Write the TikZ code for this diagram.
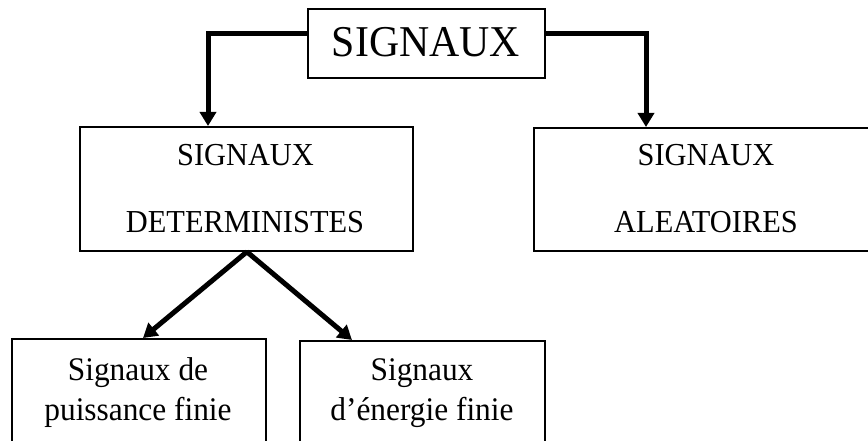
\documentclass[tikz,border=0pt]{standalone}
\usepackage{graphicx}
\usepackage{fontspec}
\setmainfont{Liberation Serif}
\usetikzlibrary{arrows.meta}
\newcommand{\condtxt}[1]{\scalebox{0.95}[1]{#1}}
\tikzset{
  box/.style={draw=black, line width=1.8pt, rectangle, inner sep=0pt, anchor=north west},
  lbl/.style={anchor=base, inner sep=0pt, font=\fontsize{32}{36}\selectfont},
  conn/.style={line width=5pt, -{Triangle[length=14pt,width=16pt]}, line join=miter},
}
\begin{document}
\begin{tikzpicture}[x=1pt,y=-1pt]
\useasboundingbox (0,0) rectangle (868,441);
\clip (0,0) rectangle (868,441);
\fill[white] (0,0) rectangle (868,441);
% boxes
\node[box, minimum width=237pt, minimum height=69pt] (top) at (307,8) {};
\node[box, minimum width=333pt, minimum height=124pt] (det) at (79,126) {};
\node[box, minimum width=346pt, minimum height=123pt] (alea) at (533,127) {};
\node[box, minimum width=254pt, minimum height=130pt] (puis) at (11,338) {};
\node[box, minimum width=245pt, minimum height=130pt] (ener) at (299,340) {};
% texts
\node[lbl, font=\fontsize{44}{48}\selectfont] (t1) at (426,57) {\condtxt{SIGNAUX}};
\node[lbl] (d1) at (245.5,166) {\condtxt{SIGNAUX}};
\node[lbl] (d2) at (245,232.5) {\condtxt{DETERMINISTES}};
\node[lbl] (a1) at (706,166) {\condtxt{SIGNAUX}};
\node[lbl] (a2) at (706,232.5) {\condtxt{ALEATOIRES}};
\node[lbl, font=\fontsize{33}{36}\selectfont] (p1) at (138,380) {\condtxt{Signaux de}};
\node[lbl, font=\fontsize{33}{36}\selectfont] (p2) at (138,420) {\condtxt{puissance finie}};
\node[lbl, font=\fontsize{33}{36}\selectfont] (e1) at (422,380) {\condtxt{Signaux}};
\node[lbl, font=\fontsize{33}{36}\selectfont] (e2) at (422,420) {\condtxt{d’énergie finie}};
% connectors
\draw[conn] ([yshift=9.5pt]top.west) -| ([xshift=129pt]det.north west);
\draw[conn] ([yshift=9.5pt]top.east) -| ([xshift=113pt]alea.north west);
\draw[conn] ([xshift=0.5pt]det.south) -- ([xshift=132pt]puis.north west);
\draw[conn] ([xshift=0.5pt]det.south) -- ([xshift=53pt]ener.north west);
\end{tikzpicture}
\end{document}
